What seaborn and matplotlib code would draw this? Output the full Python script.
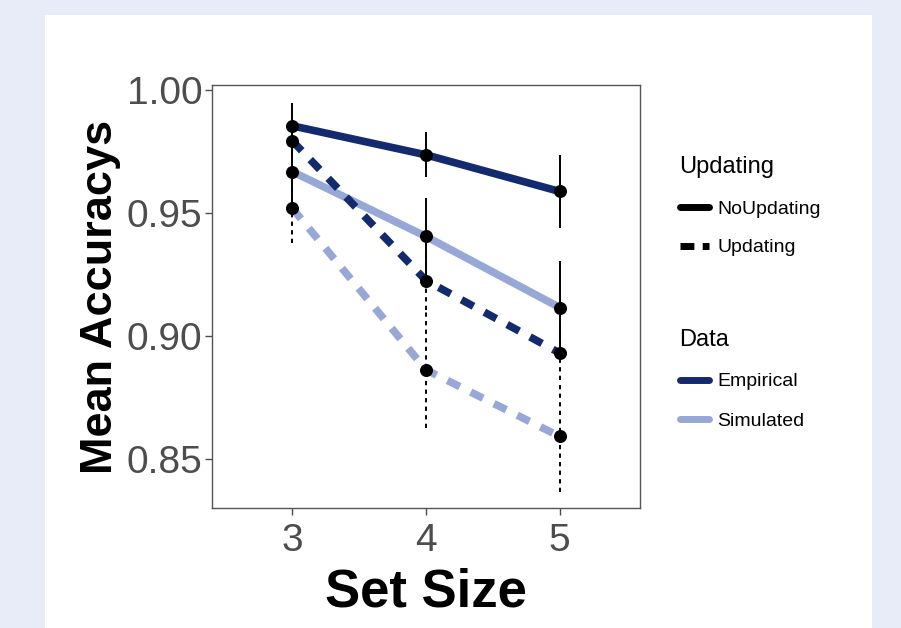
import pandas as pd
import matplotlib.pyplot as plt
import seaborn as sns
from matplotlib.lines import Line2D
from matplotlib.patches import Rectangle

# data
set_size = [3, 4, 5]
emp_noupd = [0.9854, 0.9736, 0.9587]
emp_upd = [0.9793, 0.9225, 0.8930]
sim_noupd = [0.9668, 0.9404, 0.9115]
sim_upd = [0.9519, 0.8862, 0.8591]

emp_noupd_err = [0.0092, 0.0091, 0.0149]
emp_upd_err = [0.0060, 0.0120, 0.0110]
sim_noupd_err = [0.0149, 0.0156, 0.0190]
sim_upd_err = [0.0142, 0.0237, 0.0224]

colors = {'Empirical': '#142a6e', 'Simulated': '#97a7d6'}

rows = []
for data_name, upd, vals, errs in [
    ('Simulated', 'Updating', sim_upd, sim_upd_err),
    ('Simulated', 'NoUpdating', sim_noupd, sim_noupd_err),
    ('Empirical', 'Updating', emp_upd, emp_upd_err),
    ('Empirical', 'NoUpdating', emp_noupd, emp_noupd_err),
]:
    for x, v, e in zip(set_size, vals, errs):
        rows.append({'SetSize': x, 'Accuracy': v, 'Err': e, 'Data': data_name, 'Updating': upd})
df = pd.DataFrame(rows)

sns.set_style('white')
plt.rcParams['font.family'] = ['Liberation Sans', 'DejaVu Sans']
plt.rcParams['text.color'] = 'black'

fig = plt.figure(figsize=(9.01, 6.28), dpi=100)
fig.patch.set_facecolor('#e8ecf8')
fig.patches.append(Rectangle((45 / 901, 0), 827 / 901, 613 / 628, transform=fig.transFigure,
                             facecolor='white', edgecolor='none', zorder=-5))

ax = fig.add_axes([212 / 901, 120 / 628, 428 / 901, 423 / 628])
ax.set_zorder(2)

sns.lineplot(data=df, x='SetSize', y='Accuracy', hue='Data', style='Updating',
             palette=colors, hue_order=['Simulated', 'Empirical'],
             dashes={'NoUpdating': '', 'Updating': (1.8, 1.6)},
             linewidth=5.5, legend=False, ax=ax)

# error bars
for upd, ls in [('NoUpdating', '-'), ('Updating', (0, (2.2, 2.2)))]:
    sub = df[df['Updating'] == upd]
    eb = ax.errorbar(sub['SetSize'], sub['Accuracy'], yerr=sub['Err'], fmt='none',
                     ecolor='black', elinewidth=1.4, capsize=0, zorder=5)
    eb[2][0].set_linestyle(ls)

ax.scatter(df['SetSize'], df['Accuracy'], color='black', s=70, zorder=6)

ax.set_xlim(2.40, 5.60)
ax.set_ylim(0.830, 1.002)
ax.set_xticks(set_size)
ax.set_yticks([0.85, 0.90, 0.95, 1.00])
ax.set_yticklabels(['0.85', '0.90', '0.95', '1.00'])
ax.tick_params(axis='both', which='major', labelsize=28, labelcolor='#4d4d4d',
               color='#4d4d4d', length=5, width=1, direction='out',
               bottom=True, left=True, pad=2)
ax.tick_params(axis='x', pad=6)
for sp in ax.spines.values():
    sp.set_color('#555555')
    sp.set_linewidth(1)

ax.set_xlabel('Set Size', fontsize=38, fontweight='bold', labelpad=6, color='black')
ax.set_ylabel('Mean Accuracys', fontsize=32.5, fontweight='bold', labelpad=4, color='black')

# legends
upd_handles = [Line2D([], [], color='black', lw=5, linestyle='-'),
               Line2D([], [], color='black', lw=5, linestyle=(0, (2.0, 1.2)))]
leg1 = fig.legend(upd_handles, ['NoUpdating', 'Updating'], title='Updating',
                  loc='upper left', bbox_to_anchor=(662 / 901, 1 - 139 / 628),
                  frameon=False, fontsize=14, title_fontsize=17, alignment='left',
                  handlelength=1.5, handletextpad=0.45, labelspacing=1.1)
data_handles = [Line2D([], [], color=colors['Empirical'], lw=5),
                Line2D([], [], color=colors['Simulated'], lw=5)]
leg2 = fig.legend(data_handles, ['Empirical', 'Simulated'], title='Data',
                  loc='upper left', bbox_to_anchor=(662 / 901, 1 - 312 / 628),
                  frameon=False, fontsize=14, title_fontsize=17, alignment='left',
                  handlelength=1.5, handletextpad=0.45, labelspacing=1.1)

fig.savefig('out.png', dpi=100, facecolor=fig.get_facecolor())
